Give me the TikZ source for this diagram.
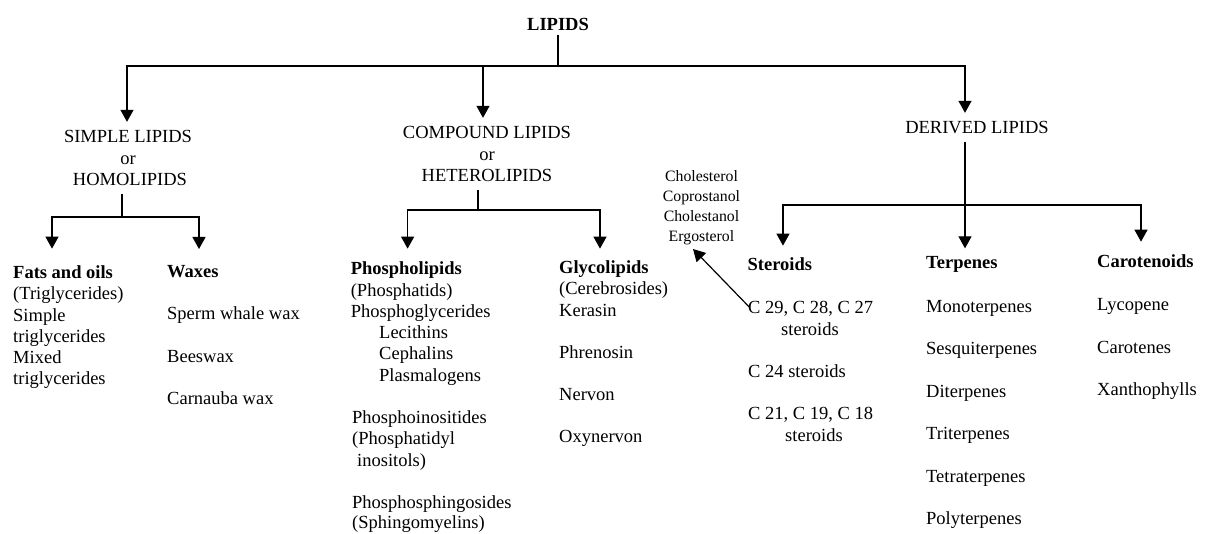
\documentclass[tikz,border=0pt]{standalone}
\usepackage{fontspec}
\setmainfont{Liberation Serif}
\usetikzlibrary{arrows.meta}
\begin{document}
\begin{tikzpicture}[x=1pt,y=-1pt,
  txt/.style={inner sep=0pt, yshift=-3pt, font=\fontsize{18.5}{21}\selectfont},
  item/.style={txt, anchor=mid west},
  head/.style={item, font=\fontsize{18.5}{21}\selectfont\bfseries},
  grp/.style={txt, anchor=mid, inner ysep=8pt},
  small/.style={inner sep=0pt, align=center, anchor=south, font=\fontsize{15.8}{20}\selectfont},
  conn/.style={line width=1.2pt},
  arr/.style={conn, -{Triangle[width=13pt,length=12pt]}}]
\useasboundingbox (0,0) rectangle (1205,534);

% top
\node[txt, anchor=mid, inner ysep=4pt, font=\fontsize{18.5}{21}\selectfont\bfseries] (lipids) at (558,25) {LIPIDS};
\coordinate (tj) at (558,66);

% group headings
\node[grp] (s1) at (128,137) {SIMPLE LIPIDS};
\node[grp] (s2) at (128,159) {or};
\node[grp] (s3) at (130,180) {HOMOLIPIDS};
\node[grp] (c1) at (487,133) {COMPOUND LIPIDS};
\node[grp] (c2) at (487,155) {or};
\node[grp] (c3) at (487,176) {HETEROLIPIDS};
\node[grp] (d1) at (977,128) {DERIVED LIPIDS};

% simple lipids column
\node[head, inner ysep=16.6pt] (fats) at (13,273) {Fats and oils};
\node[item] (fa1) at (13,294) {(Triglycerides)};
\node[item] (fa2) at (13,316) {Simple};
\node[item] (fa3) at (13,337) {triglycerides};
\node[item] (fa4) at (13,358) {Mixed};
\node[item] (fa5) at (13,379) {triglycerides};

\node[head, inner ysep=16pt] (waxes) at (167,272) {Waxes};
\node[item] (wa1) at (167,314) {Sperm whale wax};
\node[item] (wa2) at (167,357) {Beeswax};
\node[item] (wa3) at (167,399) {Carnauba wax};

% compound lipids column
\node[head, inner ysep=12.6pt] (phos) at (350.6,269) {Phospholipids};
\node[item] (ph1) at (350.6,291) {(Phosphatids)};
\node[item] (ph2) at (350.6,312) {Phosphoglycerides};
\node[item] (ph3) at (379,333) {Lecithins};
\node[item] (ph4) at (379,354) {Cephalins};
\node[item] (ph5) at (379,376) {Plasmalogens};
\node[item] (ph6) at (352,418) {Phosphoinositides};
\node[item] (ph7) at (352,439) {(Phosphatidyl};
\node[item] (ph8) at (357,461) {inositols)};
\node[item] (ph9) at (352,503) {Phosphosphingosides};
\node[item] (ph10) at (352,523) {(Sphingomyelins)};

\node[head, inner ysep=11.6pt] (glyco) at (559,268) {Glycolipids};
\node[item] (gl1) at (559,289) {(Cerebrosides)};
\node[item] (gl2) at (559,311) {Kerasin};
\node[item] (gl3) at (559,353) {Phrenosin};
\node[item] (gl4) at (559,395) {Nervon};
\node[item] (gl5) at (559,437) {Oxynervon};

% derived lipids columns
\node[small] (chol) at (701.5,245) {Cholesterol\\Coprostanol\\Cholestanol\\Ergosterol};

\node[head, inner ysep=11.6pt] (ster) at (747.5,265) {Steroids};
\node[item] (st1a) at (748,308) {C 29, C 28, C 27};
\node[txt, anchor=mid] (st1b) at (810,330) {steroids};
\node[item] (st2) at (748,372) {C 24 steroids};
\node[item] (st3a) at (748,414) {C 21, C 19, C 18};
\node[txt, anchor=mid] (st3b) at (814,436) {steroids};

\node[head, inner ysep=7.6pt] (terp) at (926,263) {Terpenes};
\node[item] (te1) at (926,307) {Monoterpenes};
\node[item] (te2) at (926,349) {Sesquiterpenes};
\node[item] (te3) at (926,392) {Diterpenes};
\node[item] (te4) at (926,434) {Triterpenes};
\node[item] (te5) at (926,477) {Tetraterpenes};
\node[item] (te6) at (926,519) {Polyterpenes};

\node[head, inner ysep=12.6pt] (carot) at (1097,262) {Carotenoids};
\node[item] (ca1) at (1097,305) {Lycopene};
\node[item] (ca2) at (1097,348) {Carotenes};
\node[item] (ca3) at (1097,390) {Xanthophylls};

% connectors: top level
\draw[conn] (lipids) -- (tj);
\draw[arr] (tj) -| ([xshift=-1pt]s1.north);
\draw[arr] (tj) -| ([xshift=-4pt]c1.north);
\draw[arr] (tj) -| ([xshift=-12pt]d1.north);

% simple lipids
\coordinate (sj) at (122,217);
\draw[conn] ([xshift=-8pt]s3.south) -- (sj);
\draw[arr] (sj) -| ([xshift=39pt]fats.north west);
\draw[arr] (sj) -| ([xshift=32pt]waxes.north west);

% compound lipids
\coordinate (cj) at (478,210);
\draw[conn] ([xshift=-9pt]c3.south) -- (cj);
\draw[arr] (cj) -| ([xshift=57pt]phos.north west);
\draw[arr] (cj) -| ([xshift=41pt]glyco.north west);

% derived lipids
\coordinate (dj) at (965,205);
\draw[arr] ([xshift=-12pt]d1.south) -- ([xshift=39pt]terp.north west);
\draw[arr] (dj) -| ([xshift=35.5pt]ster.north west);
\draw[arr] (dj) -| ([xshift=44pt]carot.north west);

% steroid examples
\draw[arr] ([xshift=1pt,yshift=-6pt]st1a.north west) -- ([xshift=-8.5pt,yshift=-4pt]chol.south);
\end{tikzpicture}
\end{document}
